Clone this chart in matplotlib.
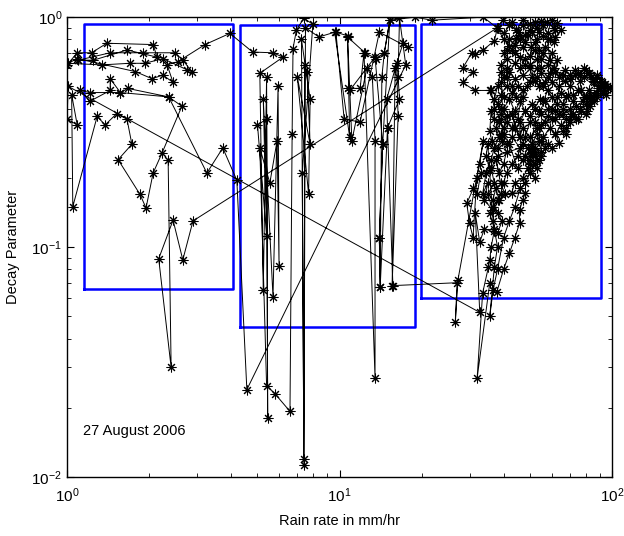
import numpy as np
import matplotlib
matplotlib.use("Agg")
import matplotlib.pyplot as plt
from matplotlib.ticker import LogLocator, NullFormatter

plt.rcParams['font.family'] = ['Liberation Sans', 'DejaVu Sans']
plt.rcParams['mathtext.fontset'] = 'custom'
plt.rcParams['mathtext.rm'] = 'Liberation Sans'
plt.rcParams['mathtext.it'] = 'Liberation Sans'

# ---- data (rain rate mm/hr, decay parameter) ----
# early light rain, upper left group
rain_a = [1.00, 1.09, 1.23, 1.40, 2.07, 2.14, 1.66, 1.25, 1.10, 1.44,
          1.90, 2.49, 2.66, 2.87, 2.76, 2.25, 1.93, 1.70, 1.34, 1.01,
          1.09, 1.78, 2.05, 2.25, 2.45, 2.33, 2.55, 3.21, 3.96]
decay_a = [0.62, 0.70, 0.70, 0.77, 0.76, 0.67, 0.72, 0.65, 0.65, 0.70,
           0.70, 0.70, 0.65, 0.58, 0.59, 0.66, 0.63, 0.63, 0.62, 0.63,
           0.66, 0.58, 0.54, 0.56, 0.52, 0.62, 0.64, 0.76, 0.85]

# middle group, first pass
rain_b = [4.80, 5.70, 6.20, 5.10, 5.25, 5.40, 5.45, 5.40, 5.00, 5.40,
          5.25, 5.70, 5.95, 6.00, 5.90, 5.55, 5.10, 5.40, 5.80, 6.58,
          6.70, 6.75, 6.95, 7.40, 7.98, 7.30, 7.40, 7.45, 7.60, 7.80,
          7.00, 7.70, 7.80, 7.25, 7.40, 7.50, 8.40, 9.60, 10.9, 10.7,
          12.4, 13.6, 14.6, 15.3, 14.4, 14.0, 14.1, 15.0, 15.7, 27.0,
          26.6, 27.2, 33.7]
decay_b = [0.705, 0.70, 0.67, 0.57, 0.065, 0.55, 0.018, 0.36, 0.34, 0.112,
           0.44, 0.0606, 0.50, 0.083, 0.29, 0.19, 0.27, 0.025, 0.023, 0.0193,
           0.31, 0.73, 0.88, 0.99, 0.93, 0.21, 0.0113, 0.62, 0.58, 0.28,
           0.55, 0.17, 0.44, 0.80, 0.012, 0.90, 0.82, 0.86, 0.30, 0.82,
           0.70, 0.66, 0.70, 0.97, 0.28, 0.11, 0.067, 0.33, 0.068, 0.070,
           0.047, 0.072, 0.29]

# heavy rain group, first pass
rain_c = [32.7, 31.9, 30.9, 30.0, 29.3, 31.0, 32.0, 33.0, 35.6, 34.5,
          35.0, 36.6, 37.0, 36.0, 35.6, 35.2, 33.5, 32.0, 35.6, 37.8,
          40.0, 42.0, 44.0, 45.8, 45.8, 47.0, 48.0, 42.8, 44.0, 47.0,
          49.0, 52.0, 50.0, 51.0, 53.0, 52.0, 55.0, 54.0, 58.0, 60.0,
          64.0, 62.0, 66.0, 68.0, 70.0, 72.0, 75.0, 76.0, 80.0, 81.0,
          83.0, 85.0, 88.0, 90.0, 98.0, 95.0, 92.0, 88.0, 85.0, 82.0,
          78.6, 76.0, 73.0, 70.0, 67.0, 64.0, 62.7, 60.0, 58.0, 56.0,
          54.3, 52.0, 49.9, 48.0, 46.0, 45.8, 44.0, 43.0, 41.0, 40.0,
          38.5, 37.0, 36.0, 35.6, 36.2, 38.0, 39.5, 41.0, 40.0, 38.5,
          37.5, 39.0, 40.5, 38.5, 37.5, 36.5, 38.0, 39.5, 38.0, 34.0,
          32.7, 31.5, 32.7]
decay_c = [0.23, 0.20, 0.11, 0.127, 0.155, 0.18, 0.17, 0.21, 0.216, 0.25,
           0.28, 0.13, 0.118, 0.10, 0.088, 0.082, 0.063, 0.027, 0.070, 0.064,
           0.080, 0.094, 0.110, 0.127, 0.145, 0.160, 0.172, 0.172, 0.19, 0.20,
           0.22, 0.20, 0.24, 0.256, 0.24, 0.27, 0.26, 0.29, 0.28, 0.27,
           0.284, 0.31, 0.32, 0.31, 0.35, 0.38, 0.36, 0.40, 0.42, 0.39,
           0.44, 0.45, 0.47, 0.50, 0.49, 0.46, 0.52, 0.55, 0.53, 0.57,
           0.55, 0.53, 0.56, 0.50, 0.53, 0.50, 0.42, 0.45, 0.48, 0.43,
           0.44, 0.40, 0.37, 0.39, 0.35, 0.30, 0.33, 0.38, 0.37, 0.33,
           0.35, 0.36, 0.39, 0.32, 0.29, 0.27, 0.29, 0.26, 0.23, 0.21,
           0.24, 0.19, 0.17, 0.16, 0.18, 0.16, 0.14, 0.13, 0.115, 0.12,
           0.105, 0.14, 0.052]

# back to light rain, lower left group, then middle group again
rain_d = [1.01, 1.00, 1.09, 1.04, 1.05, 1.29, 1.38, 1.52, 1.66, 1.73,
          1.54, 1.85, 1.95, 2.07, 2.23, 2.64, 2.36, 1.67, 1.57, 1.44,
          1.44, 1.21, 1.12, 1.21, 1.57, 2.36, 3.26, 3.73, 4.20, 4.57,
          17.5, 16.6, 16.4, 16.6, 15.0, 14.9, 16.2, 16.4, 15.6, 16.0,
          17.1, 17.8, 14.0, 11.9, 10.4, 9.70, 10.7, 11.1, 12.6, 13.2,
          13.5, 13.5, 12.3, 11.9, 10.7, 10.9, 13.5, 14.4, 14.0, 14.1,
          14.3, 14.6, 15.3, 18.9, 21.8]
decay_d = [0.50, 0.36, 0.34, 0.46, 0.15, 0.37, 0.34, 0.38, 0.36, 0.28,
           0.24, 0.17, 0.148, 0.21, 0.256, 0.41, 0.45, 0.49, 0.47, 0.54,
           0.48, 0.43, 0.48, 0.47, 0.47, 0.45, 0.21, 0.27, 0.195, 0.024,
           0.62, 0.99, 0.55, 0.44, 0.33, 0.44, 0.63, 0.37, 0.068, 0.60,
           0.77, 0.74, 0.86, 0.35, 0.36, 0.86, 0.83, 0.29, 0.60, 0.55,
           0.29, 0.027, 0.70, 0.49, 0.49, 0.48, 0.67, 0.28, 0.11, 0.067,
           0.55, 0.70, 0.97, 1.00, 0.97]

# heavy rain group, second pass
rain_e = [33.7, 37.8, 39.7, 42.0, 44.6, 47.0, 50.0, 53.0, 55.0, 57.7,
          61.0, 63.0, 65.0, 62.0, 61.0, 58.0, 59.1, 56.0, 54.0, 52.0,
          50.6, 50.0, 48.0, 46.0, 44.6, 43.0, 45.8, 48.0, 50.0, 51.0,
          53.0, 55.0, 59.0, 62.7, 62.0, 66.0, 70.0, 75.0, 80.0, 83.0,
          86.0, 90.0, 96.0, 93.0, 88.0, 84.0, 80.0, 77.0, 72.0, 68.0,
          65.0, 60.0, 57.0, 54.0, 52.0, 48.7, 47.0, 44.6, 43.0, 41.0,
          41.0, 39.0, 38.0, 37.0, 39.0, 41.0, 43.0, 45.8, 47.0, 50.0,
          53.0, 54.0, 57.0, 60.0, 64.0, 68.0, 72.0, 66.0, 62.0, 58.0,
          55.0, 50.0, 47.0, 45.0, 43.0, 41.0, 40.0, 39.0, 38.0, 36.6,
          35.6, 37.0, 38.0, 37.0, 35.6, 36.6, 38.0, 40.0, 42.0, 44.0,
          46.0, 48.0, 50.0, 52.0, 51.0, 49.0, 47.0, 45.0, 42.0, 40.0,
          39.0, 37.0, 36.0, 35.6, 31.3, 28.3, 30.9, 28.3, 30.6, 31.5,
          33.7, 37.0, 38.0]
decay_e = [1.00, 0.90, 0.97, 0.92, 0.88, 0.97, 0.93, 0.90, 0.96, 0.95,
           0.90, 0.94, 0.88, 0.82, 0.78, 0.80, 0.65, 0.70, 0.72, 0.78,
           0.74, 0.88, 0.84, 0.80, 0.81, 0.72, 0.67, 0.62, 0.60, 0.55,
           0.60, 0.57, 0.57, 0.65, 0.58, 0.56, 0.54, 0.57, 0.59, 0.56,
           0.52, 0.49, 0.50, 0.47, 0.45, 0.43, 0.45, 0.48, 0.46, 0.45,
           0.47, 0.52, 0.52, 0.50, 0.53, 0.50, 0.45, 0.45, 0.50, 0.55,
           0.60, 0.58, 0.50, 0.44, 0.40, 0.37, 0.38, 0.30, 0.33, 0.30,
           0.33, 0.33, 0.35, 0.36, 0.38, 0.36, 0.38, 0.40, 0.39, 0.40,
           0.38, 0.35, 0.28, 0.25, 0.23, 0.21, 0.19, 0.17, 0.16, 0.15,
           0.14, 0.12, 0.10, 0.082, 0.050, 0.065, 0.080, 0.11, 0.13, 0.15,
           0.18, 0.19, 0.21, 0.23, 0.26, 0.27, 0.24, 0.22, 0.28, 0.31,
           0.36, 0.40, 0.48, 0.48, 0.48, 0.52, 0.58, 0.60, 0.70, 0.69,
           0.72, 0.79, 0.90]

# heavy rain group, dense core and right-hand branch
rain_g = [40, 43, 45, 47, 49, 52, 54, 56, 58, 60,
          62, 59, 56, 53, 51, 48, 46, 44, 42, 41,
          44, 47, 50, 52, 55, 57, 60, 58, 55, 53,
          50, 48, 46, 44, 42, 44, 47, 50, 53, 56,
          58, 61, 64, 67, 70, 73, 76, 79, 82, 85,
          88, 91, 94, 97, 93, 89, 86, 82, 79, 75,
          72, 69, 66, 63, 60, 57, 54, 51, 48, 46,
          44, 42, 40, 39, 41, 43, 45, 47, 45, 43,
          41, 39, 41, 43, 46, 48, 51, 53, 56, 59,
          62, 65, 68, 71, 74, 77, 80, 83, 86, 83,
          78, 74, 70, 66, 62, 58, 55, 52, 50, 52,
          54, 53, 50, 48, 51, 55, 57, 55, 38, 36,
          37, 35, 36.5, 34, 35, 33.5, 34.5, 36, 37, 38.5,
          37.5, 39, 38, 40, 39, 40, 39, 41, 40, 42,
          40, 38]
decay_g = [0.85, 0.95, 0.86, 0.92, 0.84, 0.95, 0.86, 0.92, 0.85, 0.97,
           0.88, 0.80, 0.83, 0.80, 0.86, 0.78, 0.84, 0.76, 0.80, 0.72,
           0.70, 0.74, 0.68, 0.72, 0.66, 0.74, 0.70, 0.62, 0.60, 0.66,
           0.62, 0.66, 0.60, 0.63, 0.58, 0.54, 0.56, 0.52, 0.55, 0.50,
           0.55, 0.60, 0.55, 0.59, 0.56, 0.59, 0.56, 0.60, 0.57, 0.54,
           0.56, 0.53, 0.51, 0.49, 0.47, 0.49, 0.46, 0.48, 0.45, 0.48,
           0.43, 0.46, 0.42, 0.45, 0.40, 0.43, 0.39, 0.42, 0.39, 0.43,
           0.39, 0.44, 0.40, 0.46, 0.50, 0.47, 0.50, 0.48, 0.36, 0.33,
           0.35, 0.31, 0.28, 0.30, 0.27, 0.30, 0.28, 0.31, 0.30, 0.33,
           0.31, 0.34, 0.33, 0.37, 0.36, 0.39, 0.38, 0.41, 0.43, 0.46,
           0.43, 0.41, 0.40, 0.38, 0.36, 0.37, 0.34, 0.35, 0.25, 0.26,
           0.24, 0.22, 0.23, 0.25, 0.27, 0.25, 0.27, 0.29, 0.25, 0.22,
           0.19, 0.17, 0.145, 0.16, 0.19, 0.17, 0.21, 0.24, 0.27, 0.30,
           0.33, 0.38, 0.42, 0.45, 0.52, 0.55, 0.62, 0.66, 0.70, 0.75,
           0.80, 0.90]

# last light rain points
rain_f = [2.90, 2.66, 2.45, 2.17, 2.41, 2.35]
decay_f = [0.13, 0.088, 0.131, 0.089, 0.030, 0.24]

rain = rain_a + rain_b + rain_c + rain_d + rain_e + rain_g + rain_f
decay = decay_a + decay_b + decay_c + decay_d + decay_e + decay_g + decay_f

# regime boxes
box_left = [1.15, 4.30, 19.9]
box_right = [4.07, 18.9, 91.0]
box_bottom = [0.0657, 0.045, 0.0598]
box_top = [0.932, 0.92, 0.935]

fig = plt.figure(figsize=(6.24, 5.36), dpi=100)
ax = fig.add_axes([0.1074, 0.110, 0.8734, 0.858])

for x0, x1, y0, y1 in zip(box_left, box_right, box_bottom, box_top):
    ax.plot([x0, x1, x1, x0, x0], [y0, y0, y1, y1, y0], color=(0, 0, 1), lw=1.8, zorder=2)

ax.plot(rain, decay, color='black', lw=0.7, marker=(8, 2, 0), markersize=7,
        markeredgewidth=0.75, markeredgecolor='black', zorder=3)

ax.set_xscale('log')
ax.set_yscale('log')
ax.set_xlim(1, 100)
ax.set_ylim(0.01, 1)

ax.xaxis.set_major_locator(LogLocator(base=10, numticks=5))
ax.yaxis.set_major_locator(LogLocator(base=10, numticks=5))
ax.xaxis.set_minor_locator(LogLocator(base=10, subs=np.arange(2, 10), numticks=20))
ax.yaxis.set_minor_locator(LogLocator(base=10, subs=np.arange(2, 10), numticks=20))
ax.xaxis.set_minor_formatter(NullFormatter())
ax.yaxis.set_minor_formatter(NullFormatter())

ax.tick_params(which='both', direction='in', top=True, right=True, labelsize=11)
ax.tick_params(which='major', length=5, width=0.8)
ax.tick_params(which='minor', length=3, width=0.6)
ax.tick_params(axis='x', pad=7)
for s in ax.spines.values():
    s.set_linewidth(1.0)

ax.set_xlabel('Rain rate in mm/hr', fontsize=10.5, labelpad=6)
ax.set_ylabel('Decay Parameter', fontsize=10.5, labelpad=8)
ax.text(1.145, 0.0158, '27 August 2006', fontsize=10.5, va='center', ha='left')

fig.savefig('out.png', dpi=100)
